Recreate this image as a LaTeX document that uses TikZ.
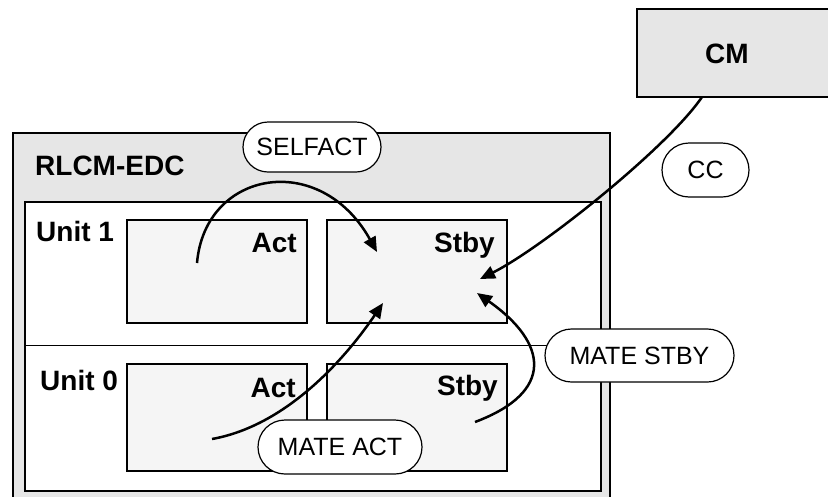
\documentclass[tikz,border=0pt]{standalone}
\usepackage{fontspec}
\setmainfont{Liberation Sans}
\usetikzlibrary{arrows.meta,shapes.misc}
\definecolor{boxgray}{HTML}{E6E6E6}
\definecolor{paneg}{HTML}{F5F5F5}
\tikzset{
  outerbox/.style={draw=black,line width=1.6pt,fill=boxgray},
  innerbox/.style={draw=black,line width=1.2pt,fill=white},
  panebox/.style={draw=black,line width=1.2pt,fill=paneg},
  boldlbl/.style={inner sep=0pt,font=\fontsize{28}{30}\selectfont\bfseries},
  oval/.style={rounded rectangle,draw=black,line width=1.2pt,fill=white,inner sep=0pt,
    font=\fontsize{25}{28}\selectfont},
  flow/.style={line width=2.5pt,-{Triangle[length=15pt,width=13pt]}}
}
\begin{document}
\begin{tikzpicture}[x=1pt,y=-1pt]
\useasboundingbox (0,0) rectangle (828,496);
\begin{scope}
\clip (0,0) rectangle (828,496);
% CM box
\draw[outerbox] (637,9) rectangle (840,97);
\node[boldlbl,anchor=base] (cm) at (727,63) {CM};
\coordinate (cmout) at (702,97);
% RLCM-EDC
\draw[outerbox] (13,133) rectangle (610,500);
\node[boldlbl,anchor=base west] (rlcm) at (35,175) {RLCM-EDC};
\draw[innerbox] (25,202) rectangle (601,491);
\draw[line width=1.2pt] (25,345.5) -- (601,345.5);
% unit 1
\node[boldlbl,anchor=base west] (u1) at (36,241) {Unit 1};
\draw[panebox] (127,220) rectangle (307,323);
\draw[panebox] (327,220) rectangle (507,323);
\node[boldlbl,anchor=base east] (act1) at (297,252) {Act};
\node[boldlbl,anchor=base east] (stby1) at (495,252) {Stby};
% unit 0
\node[boldlbl,anchor=base west] (u0) at (40,390) {Unit 0};
\draw[panebox] (127,364) rectangle (307,471);
\draw[panebox] (327,364) rectangle (507,471);
\node[boldlbl,anchor=base east] (act0) at (296,397) {Act};
\node[boldlbl,anchor=base east] (stby0) at (498,395) {Stby};
\end{scope}
% connector end points
\coordinate (sa0) at (197,263);
\coordinate (sa1) at (377,252);
\coordinate (cc1) at (480,279);
\coordinate (ma0) at (212,439);
\coordinate (ma1) at (383,303);
\coordinate (ms0) at (475,422);
\coordinate (ms1) at (477,293);
% connectors
\draw[flow] (sa0) .. controls (205,170) and (320,150) .. (sa1);
\draw[flow] (cmout) .. controls (668,147) and (542,248) .. (cc1);
\draw[flow] (ma0) .. controls (290,425) and (349,353) .. (ma1);
\draw[flow] (ms0) .. controls (555,392) and (548,343) .. (ms1);
% labels
\node[oval,minimum width=138pt,minimum height=50pt] (selfact) at (312,147) {SELFACT};
\node[oval,minimum width=87pt,minimum height=54pt] (cc) at (705.5,170) {CC};
\node[oval,minimum width=189pt,minimum height=53pt] (matestby) at (639.5,355.5) {MATE STBY};
\node[oval,minimum width=164pt,minimum height=54pt] (mateact) at (340,447) {MATE ACT};
\end{tikzpicture}
\end{document}
